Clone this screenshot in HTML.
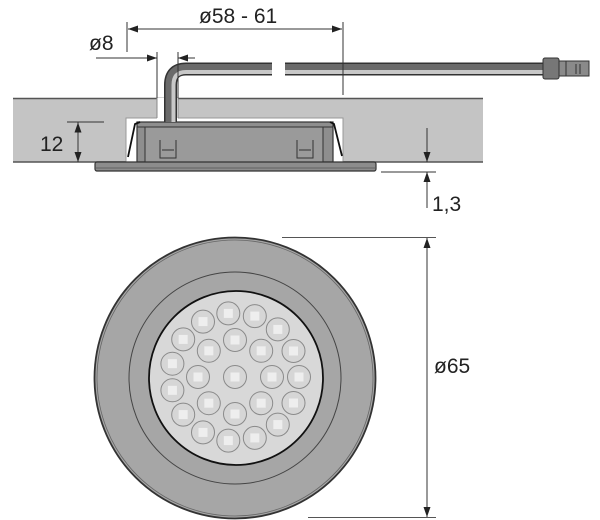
<!DOCTYPE html>
<html><head><meta charset="utf-8"><style>
html,body{margin:0;padding:0;background:#fff;}
svg{display:block;}
text{font-family:"Liberation Sans",sans-serif;fill:#222;}
</style></head><body>
<svg width="600" height="520" viewBox="0 0 600 520" xmlns="http://www.w3.org/2000/svg">
<defs>
<marker id="a" viewBox="0 0 10 10" refX="10" refY="5" markerWidth="10" markerHeight="10" markerUnits="userSpaceOnUse" orient="auto"><path d="M0,1.5 L10,5 L0,8.5 Z" fill="#222"/></marker>
<g id="led"><circle r="11.5" fill="#d6d6d6" stroke="#8a8a8a" stroke-width="1"/><rect x="-4.5" y="-4.5" width="9" height="9" fill="#eeeeee"/></g>
</defs>

<rect x="13" y="98" width="470" height="64" fill="#c4c4c4"/>
<line x1="13" y1="98.5" x2="483" y2="98.5" stroke="#555" stroke-width="1.5"/>
<line x1="13" y1="162" x2="483" y2="162" stroke="#555" stroke-width="1.5"/>
<rect x="126" y="118" width="217" height="44" fill="#fff" stroke="#999" stroke-width="1"/>
<rect x="157" y="98" width="21" height="21" fill="#fff"/>
<line x1="157" y1="98" x2="157" y2="118" stroke="#888"/>
<line x1="178" y1="98" x2="178" y2="118" stroke="#888"/>

<rect x="137" y="122" width="196" height="40" fill="#8e8e8e" stroke="#333" stroke-width="1.2"/>
<rect x="145" y="127" width="178" height="35" fill="#9a9a9a" stroke="#333" stroke-width="1"/>
<line x1="137" y1="127" x2="333" y2="127" stroke="#333"/>
<path d="M160,140 V158 H176 V140 M162,150 H174" fill="none" stroke="#333" stroke-width="1"/>
<path d="M297,140 V158 H313 V140 M299,150 H311" fill="none" stroke="#333" stroke-width="1"/>
<path d="M128,157 L135,124 L140,122" fill="none" stroke="#111" stroke-width="1.8"/>
<path d="M342,156 L334,124 L330,122" fill="none" stroke="#111" stroke-width="1.8"/>

<rect x="95" y="162" width="281" height="9" rx="2" fill="#8c8c8c" stroke="#333" stroke-width="1.2"/>
<line x1="96" y1="168" x2="375" y2="168" stroke="#555" stroke-width="0.8"/>

<path d="M170.5,122 V85 Q170.5,69 186,69 H272 M285,69 H545" fill="none" stroke="#333" stroke-width="13"/>
<path d="M170.5,122 V85 Q170.5,69 186,69 H272 M285,69 H545" fill="none" stroke="#6a6a6a" stroke-width="10"/>
<path d="M173.5,122 V85 Q173.5,72 186,72 H272 M285,72 H545" fill="none" stroke="#c8c8c8" stroke-width="4"/>
<rect x="543" y="58" width="16" height="21" rx="2" fill="#777" stroke="#333"/>
<rect x="559" y="61" width="30" height="15" fill="#8a8a8a" stroke="#333"/>
<line x1="566" y1="61" x2="566" y2="76" stroke="#333"/>
<line x1="576" y1="64" x2="576" y2="74" stroke="#333"/>
<line x1="580" y1="64" x2="580" y2="74" stroke="#333"/>

<g stroke="#333" stroke-width="1" fill="none">
<line x1="127" y1="22" x2="127" y2="52"/>
<line x1="343" y1="22" x2="343" y2="95"/>
<line x1="235" y1="29" x2="128" y2="29" marker-end="url(#a)"/>
<line x1="235" y1="29" x2="342" y2="29" marker-end="url(#a)"/>
</g>
<g stroke="#333" stroke-width="1">
<line x1="157" y1="52" x2="157" y2="98"/>
<line x1="178" y1="52" x2="178" y2="98"/>
<line x1="96" y1="58" x2="157" y2="58" marker-end="url(#a)"/>
<line x1="195" y1="58" x2="178" y2="58" marker-end="url(#a)"/>
</g>
<g stroke="#333" stroke-width="1">
<line x1="67" y1="122" x2="104" y2="122"/>
<line x1="78" y1="142" x2="78" y2="122.5" marker-end="url(#a)"/>
<line x1="78" y1="142" x2="78" y2="162" marker-end="url(#a)"/>
</g>
<g stroke="#333" stroke-width="1">
<line x1="381" y1="172" x2="436" y2="172"/>
<line x1="427" y1="128" x2="427" y2="162" marker-end="url(#a)"/>
<line x1="427" y1="208" x2="427" y2="172" marker-end="url(#a)"/>
</g>
<g stroke="#555" stroke-width="1">
<line x1="282" y1="237.5" x2="436" y2="237.5"/>
<line x1="308" y1="517.5" x2="436" y2="517.5"/>
<line x1="427" y1="377" x2="427" y2="238" marker-end="url(#a)" stroke="#333"/>
<line x1="427" y1="377" x2="427" y2="517" marker-end="url(#a)" stroke="#333"/>
</g>

<text x="199" y="23" font-size="21">ø58 - 61</text>
<text x="89" y="50" font-size="21">ø8</text>
<text x="40" y="151" font-size="21">12</text>
<text x="432" y="211" font-size="21">1,3</text>
<text x="434" y="373" font-size="21">ø65</text>

<circle cx="235" cy="378" r="140.5" fill="#a6a6a6" stroke="#333" stroke-width="1.8"/>
<circle cx="235" cy="378" r="138" fill="none" stroke="#666" stroke-width="0.8"/>
<circle cx="235" cy="378" r="106" fill="#a6a6a6" stroke="#444" stroke-width="1"/>
<circle cx="236" cy="378" r="87" fill="#d8d8d8" stroke="#111" stroke-width="1.8"/>
<g>
<use href="#led" x="235" y="377"/>
<use href="#led" x="272" y="377"/><use href="#led" x="261.2" y="350.8"/><use href="#led" x="235" y="340"/><use href="#led" x="208.8" y="350.8"/>
<use href="#led" x="198" y="377"/><use href="#led" x="208.8" y="403.2"/><use href="#led" x="235" y="414"/><use href="#led" x="261.2" y="403.2"/>
<use href="#led" x="299" y="377"/><use href="#led" x="293.5" y="351"/><use href="#led" x="277.8" y="329.4"/><use href="#led" x="254.8" y="316.1"/>
<use href="#led" x="228.3" y="313.4"/><use href="#led" x="203" y="321.6"/><use href="#led" x="183.2" y="339.4"/><use href="#led" x="172.4" y="363.7"/>
<use href="#led" x="172.4" y="390.3"/><use href="#led" x="183.2" y="414.6"/><use href="#led" x="203" y="432.4"/><use href="#led" x="228.3" y="440.6"/>
<use href="#led" x="254.8" y="437.9"/><use href="#led" x="277.8" y="424.6"/><use href="#led" x="293.5" y="403"/>
</g>
</svg>
</body></html>
